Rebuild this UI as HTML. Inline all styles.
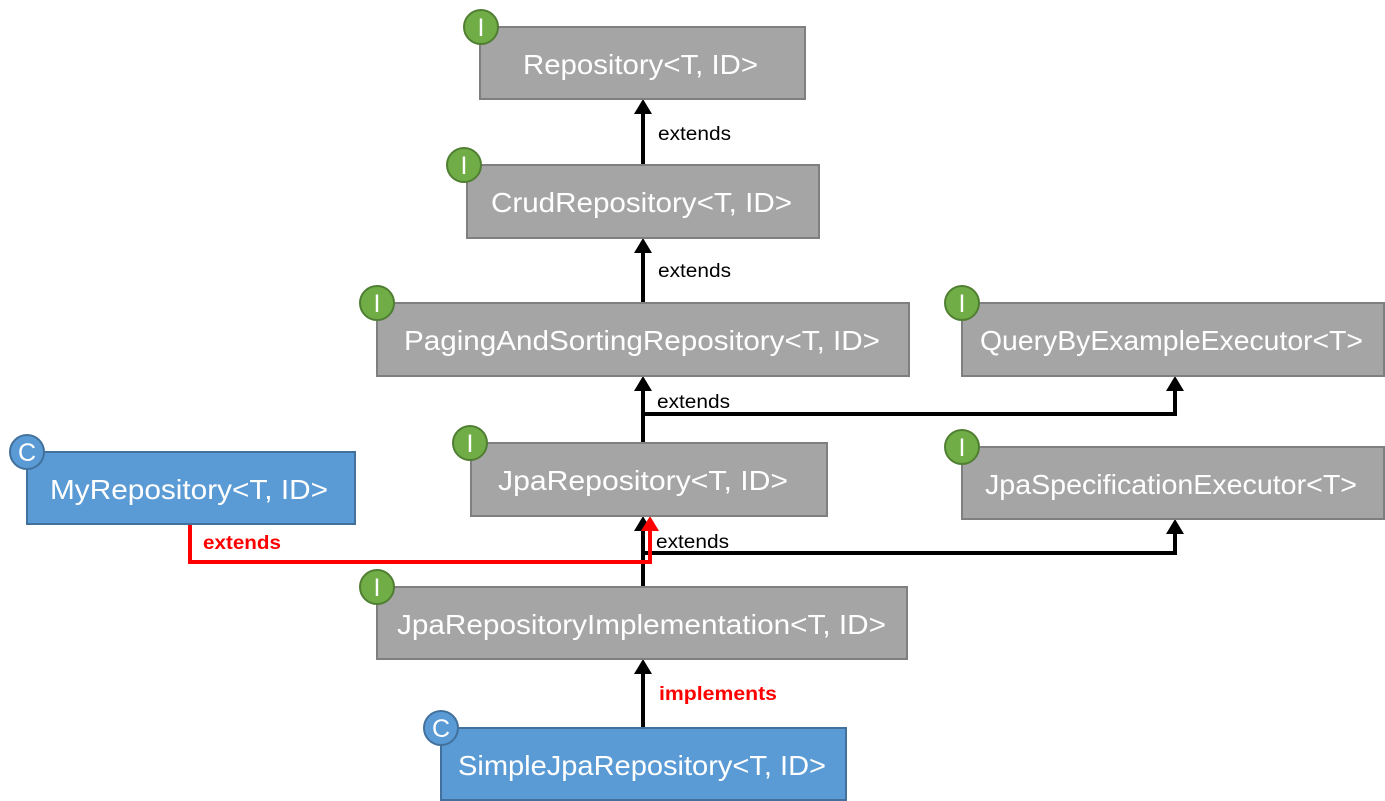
<!DOCTYPE html>
<html><head><meta charset="utf-8"><style>
html,body{margin:0;padding:0;background:#fff;width:1385px;height:801px;overflow:hidden}
svg{display:block}
.t{font-family:"Liberation Sans",sans-serif;font-size:28px;fill:#fff}
.l{font-family:"Liberation Sans",sans-serif;font-size:19px;fill:#000}
.g{fill:#a5a5a5;stroke:#7f7f7f;stroke-width:2}
.b{fill:#5b9bd5;stroke:#41719c;stroke-width:2}
.ci{fill:#70ad47;stroke:#507e32;stroke-width:2}
.cc{fill:#5b9bd5;stroke:#41719c;stroke-width:2}
.ct{font-family:"Liberation Sans",sans-serif;font-size:25px;fill:#fff}
</style></head><body>
<svg width="1385" height="801" viewBox="0 0 1385 801">
<g stroke="#000" stroke-width="4" fill="none">
<line x1="643" y1="165" x2="643" y2="112"/>
<line x1="643" y1="303" x2="643" y2="250"/>
<line x1="643" y1="443" x2="643" y2="389"/>
<polyline points="643,414 1175,414 1175,389"/>
<line x1="643" y1="587" x2="643" y2="529"/>
<polyline points="643,553 1175,553 1175,532"/>
<line x1="643" y1="728" x2="643" y2="672"/>
</g>
<polyline points="190,524 190,562 650,562 650,529" stroke="#f00" stroke-width="4" fill="none"/>
<g fill="#000">
<polygon points="643,99 634,114 652,114"/>
<polygon points="643,238 634,253 652,253"/>
<polygon points="643,376 634,391 652,391"/>
<polygon points="1175,376 1166,391 1184,391"/>
<polygon points="643,516 634,531 652,531"/>
<polygon points="1175,519 1166,534 1184,534"/>
<polygon points="643,659 634,674 652,674"/>
</g>
<polygon points="650,516 641,531 659,531" fill="#f00"/>
<text class="l" x="658" y="140" textLength="73" lengthAdjust="spacingAndGlyphs">extends</text>
<text class="l" x="658" y="277" textLength="73" lengthAdjust="spacingAndGlyphs">extends</text>
<text class="l" x="657" y="408" textLength="73" lengthAdjust="spacingAndGlyphs">extends</text>
<text class="l" x="656" y="548" textLength="73" lengthAdjust="spacingAndGlyphs">extends</text>
<text class="l" x="203" y="549" textLength="78" lengthAdjust="spacingAndGlyphs" style="fill:#f00;font-weight:bold">extends</text>
<text class="l" x="659" y="700" textLength="118" lengthAdjust="spacingAndGlyphs" style="fill:#f00;font-weight:bold">implements</text>
<rect class="g" x="480" y="27" width="325" height="72"/>
<text class="t" x="523" y="74" textLength="235" lengthAdjust="spacingAndGlyphs">Repository&lt;T, ID&gt;</text>
<rect class="g" x="467" y="165" width="352" height="73"/>
<text class="t" x="491" y="212" textLength="301" lengthAdjust="spacingAndGlyphs">CrudRepository&lt;T, ID&gt;</text>
<rect class="g" x="377" y="303" width="532" height="73"/>
<text class="t" x="404" y="350" textLength="476" lengthAdjust="spacingAndGlyphs">PagingAndSortingRepository&lt;T, ID&gt;</text>
<rect class="g" x="962" y="303" width="422" height="73"/>
<text class="t" x="980" y="350" textLength="383" lengthAdjust="spacingAndGlyphs">QueryByExampleExecutor&lt;T&gt;</text>
<rect class="g" x="471" y="443" width="356" height="73"/>
<text class="t" x="498" y="490" textLength="290" lengthAdjust="spacingAndGlyphs">JpaRepository&lt;T, ID&gt;</text>
<rect class="g" x="962" y="447" width="422" height="72"/>
<text class="t" x="985" y="494" textLength="372" lengthAdjust="spacingAndGlyphs">JpaSpecificationExecutor&lt;T&gt;</text>
<rect class="b" x="27" y="452" width="328" height="72"/>
<text class="t" x="50" y="499" textLength="278" lengthAdjust="spacingAndGlyphs">MyRepository&lt;T, ID&gt;</text>
<rect class="g" x="377" y="587" width="530" height="72"/>
<text class="t" x="397" y="634" textLength="489" lengthAdjust="spacingAndGlyphs">JpaRepositoryImplementation&lt;T, ID&gt;</text>
<rect class="b" x="441" y="728" width="405" height="72"/>
<text class="t" x="458" y="775" textLength="368" lengthAdjust="spacingAndGlyphs">SimpleJpaRepository&lt;T, ID&gt;</text>
<g>
<circle class="ci" cx="481" cy="27" r="17"/><text class="ct" x="481" y="36" text-anchor="middle">I</text>
<circle class="ci" cx="464" cy="165" r="17"/><text class="ct" x="464" y="174" text-anchor="middle">I</text>
<circle class="ci" cx="377" cy="303" r="17"/><text class="ct" x="377" y="312" text-anchor="middle">I</text>
<circle class="ci" cx="962" cy="303" r="17"/><text class="ct" x="962" y="312" text-anchor="middle">I</text>
<circle class="ci" cx="470" cy="443" r="17"/><text class="ct" x="470" y="452" text-anchor="middle">I</text>
<circle class="ci" cx="962" cy="447" r="17"/><text class="ct" x="962" y="456" text-anchor="middle">I</text>
<circle class="ci" cx="377" cy="587" r="17"/><text class="ct" x="377" y="596" text-anchor="middle">I</text>
<circle class="cc" cx="27" cy="452" r="17"/><text class="ct" x="27" y="461" text-anchor="middle">C</text>
<circle class="cc" cx="441" cy="728" r="17"/><text class="ct" x="441" y="737" text-anchor="middle">C</text>
</g>
</svg>
</body></html>
